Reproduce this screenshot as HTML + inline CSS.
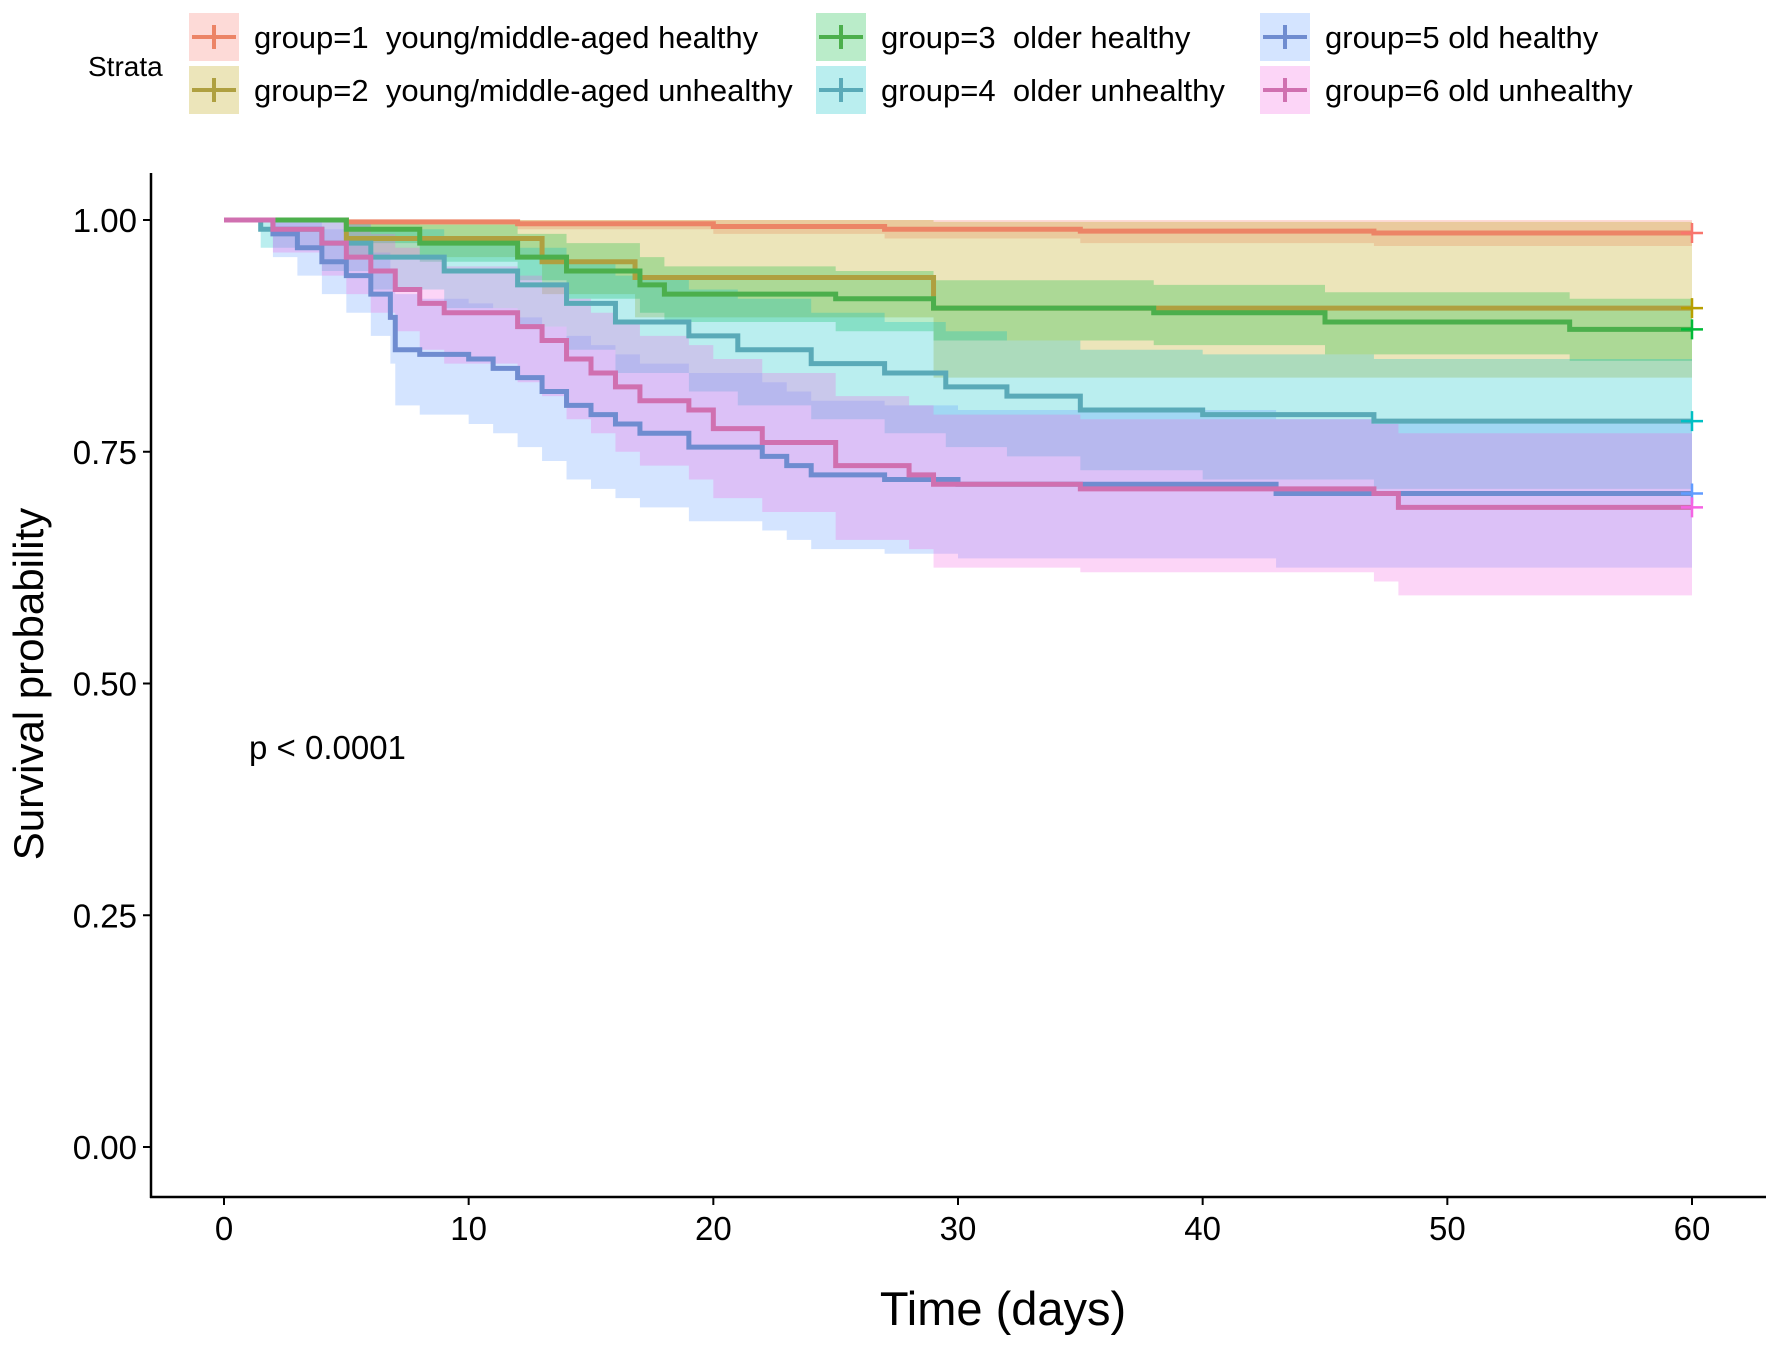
<!DOCTYPE html>
<html><head><meta charset="utf-8"><style>
body{margin:0;background:#fff;}
svg{display:block;font-family:"Liberation Sans",sans-serif;}
</style></head><body>
<svg id="chart" width="1772" height="1346" viewBox="0 0 1772 1346">
<g id="bands"></g>
<g id="lines"></g>
<g id="axes"></g>
<g id="legend"></g>
<text x="249" y="759" font-size="33" fill="#000">p &lt; 0.0001</text>
<text x="1003" y="1325" font-size="47" text-anchor="middle" fill="#000">Time (days)</text>
<text transform="translate(43,684) rotate(-90)" font-size="42" text-anchor="middle" fill="#000">Survival probability</text>
</svg>
<script>
const groupNames=["group=1  young/middle-aged healthy","group=2  young/middle-aged unhealthy","group=3  older healthy","group=4  older unhealthy","group=5 old healthy","group=6 old unhealthy"];
const colors=["#F8766D","#B79F00","#00BA38","#00BFC4","#619CFF","#F564E3"];
const lineColors=["#EC8466","#AFA040","#4CAF4C","#5AAAB8","#6F8CD0","#D070B0"];
const xTicks=[0,10,20,30,40,50,60];
const yTicks=[0,0.25,0.5,0.75,1];
const yTickLabels=["0.00","0.25","0.50","0.75","1.00"];
const tEnd=60;
const t1=[0,5,12,20,27,35,47];
const s1=[1,0.998,0.996,0.993,0.99,0.988,0.986];
const l1=[1,0.995,0.99,0.985,0.98,0.975,0.972];
const u1=[1,1,1,1,1,1,1];
const t2=[0,5,13,16.8,29];
const s2=[1,0.98,0.955,0.938,0.905];
const l2=[1,0.96,0.92,0.895,0.83];
const u2=[1,1,1,1,0.998];
const t3=[0,5,8,12,14,17,18,25,29,38,45,55];
const s3=[1,0.99,0.975,0.96,0.945,0.93,0.92,0.915,0.905,0.9,0.89,0.882];
const l3=[1,0.975,0.955,0.935,0.915,0.9,0.89,0.88,0.87,0.865,0.855,0.848];
const u3=[1,1,0.995,0.985,0.975,0.96,0.95,0.945,0.935,0.93,0.922,0.915];
const t4=[0,1.5,4,6,9,12,14,16,19,21,24,27,29.5,32,35,40,47];
const s4=[1,0.99,0.975,0.96,0.945,0.93,0.91,0.89,0.875,0.86,0.845,0.835,0.82,0.81,0.795,0.79,0.783];
const l4=[1,0.97,0.945,0.925,0.905,0.885,0.86,0.835,0.815,0.8,0.785,0.77,0.755,0.745,0.73,0.72,0.71];
const u4=[1,1,1,0.99,0.98,0.97,0.955,0.94,0.925,0.915,0.9,0.89,0.88,0.87,0.86,0.855,0.85];
const t5=[0,2,3,4,5,6,6.8,7,8,10,11,12,13,14,15,16,17,19,22,23,24,27,30,43];
const s5=[1,0.985,0.97,0.955,0.94,0.92,0.895,0.86,0.855,0.85,0.84,0.83,0.815,0.8,0.79,0.78,0.77,0.755,0.745,0.735,0.725,0.72,0.715,0.705];
const l5=[1,0.96,0.94,0.92,0.9,0.875,0.845,0.8,0.79,0.78,0.77,0.755,0.74,0.72,0.71,0.7,0.69,0.675,0.665,0.655,0.645,0.64,0.635,0.625];
const u5=[1,1,1,0.99,0.98,0.965,0.945,0.92,0.915,0.91,0.905,0.895,0.885,0.875,0.865,0.855,0.845,0.835,0.825,0.815,0.805,0.8,0.795,0.785];
const t6=[0,2,4,5,6,7,8,9,12,13,14,15,16,17,19,20,22,25,28,29,35,47,48];
const s6=[1,0.99,0.975,0.96,0.945,0.925,0.91,0.9,0.885,0.87,0.85,0.835,0.82,0.805,0.795,0.775,0.76,0.735,0.725,0.715,0.71,0.705,0.69];
const l6=[1,0.965,0.94,0.92,0.9,0.88,0.86,0.845,0.825,0.81,0.785,0.77,0.75,0.735,0.72,0.7,0.685,0.655,0.645,0.625,0.62,0.61,0.595];
const u6=[1,1,1,0.995,0.985,0.97,0.96,0.95,0.94,0.93,0.915,0.9,0.89,0.875,0.865,0.85,0.835,0.81,0.8,0.79,0.785,0.78,0.77];
const T=[t1,t2,t3,t4,t5,t6],S=[s1,s2,s3,s4,s5,s6],L=[l1,l2,l3,l4,l5,l6],U=[u1,u2,u3,u4,u5,u6];

const X0=224,X1=1692,Y0=1147,Y1=220;
function xs(t){return X0+(t/60)*(X1-X0);}
function ys(v){return Y0-v*(Y0-Y1);}
const NS="http://www.w3.org/2000/svg";
function mk(tag,parent,attrs){const e=document.createElementNS(NS,tag);for(const k in attrs)e.setAttribute(k,attrs[k]);parent.appendChild(e);return e;}
function stepPts(t,v){let p=[[xs(t[0]),ys(v[0])]];for(let i=1;i<t.length;i++){p.push([xs(t[i]),ys(v[i-1])]);p.push([xs(t[i]),ys(v[i])]);}p.push([xs(tEnd),ys(v[v.length-1])]);return p;}
const bands=document.getElementById('bands'),lines=document.getElementById('lines');
for(let g=0;g<6;g++){
  const up=stepPts(T[g],U[g]),lo=stepPts(T[g],L[g]).reverse();
  const poly=mk('polygon',bands,{points:up.concat(lo).map(p=>p.join(',')).join(' '),fill:colors[g],'fill-opacity':0.27});
  
  
}
for(let g=0;g<6;g++){
  const pts=stepPts(T[g],S[g]);
  const pl=mk('polyline',lines,{points:pts.map(p=>p.join(',')).join(' '),fill:'none',stroke:lineColors[g],'stroke-width':5});
  
  
  const ex=xs(tEnd),ey=ys(S[g][S[g].length-1]);
  const c=mk('path',lines,{d:`M${ex-11},${ey}H${ex+11}M${ex},${ey-10}V${ey+10}`,stroke:colors[g],'stroke-width':2.5});
  
  
}
const axes=document.getElementById('axes');
mk('line',axes,{x1:151,y1:173,x2:151,y2:1198,stroke:'#000','stroke-width':2.5});
mk('line',axes,{x1:150,y1:1197,x2:1766,y2:1197,stroke:'#000','stroke-width':2.5});
for(let i=0;i<xTicks.length;i++){
  const x=xs(xTicks[i]);
  mk('line',axes,{x1:x,y1:1197,x2:x,y2:1205,stroke:'#000','stroke-width':2});
  const t=mk('text',axes,{x:x,y:1240,'font-size':33,'text-anchor':'middle',fill:'#000'});t.textContent=xTicks[i];
  
  
}
for(let i=0;i<yTicks.length;i++){
  const y=ys(yTicks[i]);
  mk('line',axes,{x1:143,y1:y,x2:151,y2:y,stroke:'#000','stroke-width':2});
  const t=mk('text',axes,{x:137,y:y+12,'font-size':33,'text-anchor':'end',fill:'#000'});t.textContent=yTickLabels[i];
  
  
}
const lg=document.getElementById('legend');
const st=mk('text',lg,{x:88,y:76,'font-size':28,fill:'#000'});st.textContent='Strata';


const colX=[189,816,1260],rowY=[13,66];
for(let g=0;g<6;g++){
  const bx=colX[Math.floor(g/2)],by=rowY[g%2];
  const e=mk('g',lg,{});
  
  
  mk('rect',e,{x:bx,y:by,width:50,height:48,fill:colors[g],'fill-opacity':0.27});
  mk('path',e,{d:`M${bx+3},${by+24}H${bx+47}M${bx+25},${by+12}V${by+36}`,stroke:lineColors[g],'stroke-width':4});
  const t=mk('text',e,{x:bx+65,y:by+35,'font-size':31,fill:'#000','xml:space':'preserve'});t.textContent=groupNames[g];
  t.style.whiteSpace='pre';
}
</script>
</body></html>
